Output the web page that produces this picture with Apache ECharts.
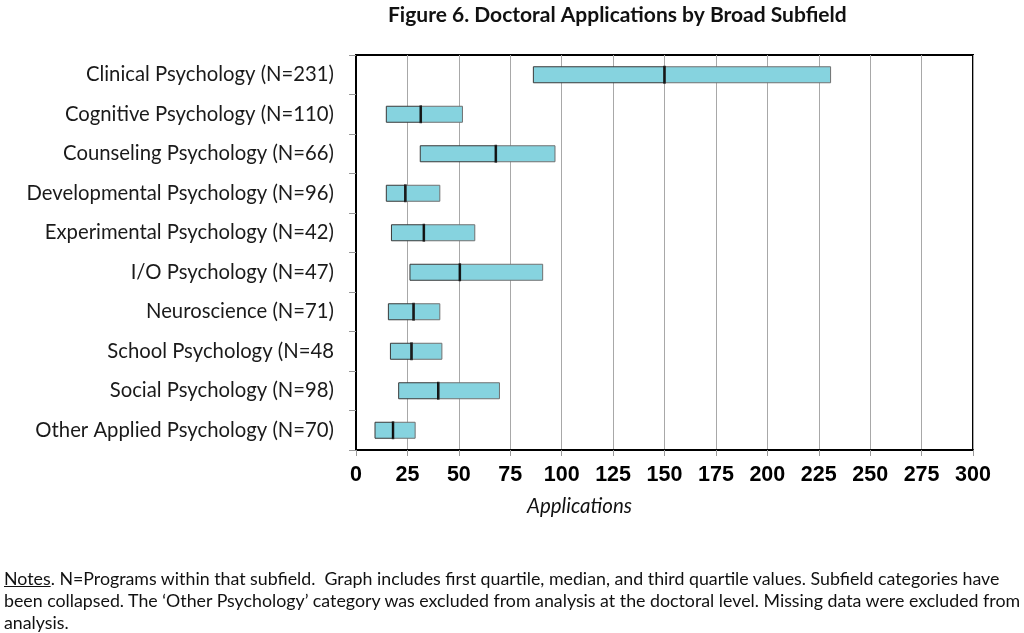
<!DOCTYPE html>
<html>
<head>
<meta charset="utf-8">
<script src="https://cdn.jsdelivr.net/npm/echarts@6/dist/echarts.min.js"></script>
<style>
html,body{margin:0;padding:0;background:#fff;}
#wrap{position:relative;width:1024px;height:633px;}
#chart{position:absolute;left:0;top:0;width:1024px;height:633px;}
#notes{position:absolute;left:4px;top:567px;font-family:Lato,"Noto Sans",sans-serif;font-size:17.8px;line-height:22px;color:#111;white-space:nowrap;}
#notes u{text-decoration:underline;}
</style>
</head>
<body>
<div id="wrap">
<div id="chart"></div>
<div id="notes"><u>Notes</u>. N=Programs within that subfield.&nbsp; Graph includes first quartile, median, and third quartile values. Subfield categories have<br>been collapsed. The ‘Other Psychology’ category was excluded from analysis at the doctoral level. Missing data were excluded from<br>analysis.</div>
</div>
<script>
var categories = [
  'Clinical Psychology (N=231)',
  'Cognitive Psychology (N=110)',
  'Counseling Psychology (N=66)',
  'Developmental Psychology (N=96)',
  'Experimental Psychology (N=42)',
  'I/O Psychology (N=47)',
  'Neuroscience (N=71)',
  'School Psychology (N=48',
  'Social Psychology (N=98)',
  'Other Applied Psychology (N=70)'
];
var q1 =     [86, 14.5, 31, 14.5, 17, 26, 15.5, 16.5, 20.5, 9];
var median = [150, 31.5, 68, 24, 33, 50.5, 28, 27, 40, 18];
var q3 =     [231, 52, 97, 41, 58, 91, 41, 42, 70, 29];
var xTicks = [0, 25, 50, 75, 100, 125, 150, 175, 200, 225, 250, 275, 300];

var lowerSeg = q1.map(function(v, i){ return median[i] - v; });
var upperSeg = q3.map(function(v, i){ return v - median[i]; });
var medianPts = median.map(function(v, i){ return [v, i]; });

var chart = echarts.init(document.getElementById('chart'), null, {renderer: 'canvas'});
var fill = '#86d3df';
var option = {
  animation: false,
  title: {
    text: 'Figure 6. Doctoral Applications by Broad Subfield',
    left: 383, top: 0,
    textStyle: {fontFamily: 'Lato', fontWeight: 'bold', fontSize: 21, color: '#111'}
  },
  grid: {left: 356, right: 51, top: 55, bottom: 183, show: true, borderColor: '#000', borderWidth: 2, containLabel: false},
  xAxis: {
    type: 'value', min: xTicks[0], max: xTicks[xTicks.length - 1], interval: 25,
    axisLine: {show: true, lineStyle: {color: '#000', width: 2}},
    axisTick: {show: true, length: 6, lineStyle: {color: '#999'}},
    axisLabel: {margin: 14, fontFamily: '"Liberation Sans",Arial,sans-serif', fontWeight: 'bold', fontSize: 21.5, color: '#000'},
    splitLine: {show: true, lineStyle: {color: '#a8a8a8', width: 1}}
  },
  yAxis: {
    type: 'category', data: categories, inverse: true,
    axisLine: {show: true, lineStyle: {color: '#000', width: 2}},
    axisTick: {show: true, length: 7, lineStyle: {color: '#999'}},
    axisLabel: {margin: 22, fontFamily: 'Lato', fontSize: 20.3, color: '#1a1a1a'},
    splitLine: {show: false}
  },
  graphic: [{
    type: 'text', left: 527, top: 496,
    style: {text: 'Applications', font: 'italic 20.5px Lato', fill: '#111'}
  }],
  series: [
    {type: 'bar', stack: 'b', data: q1, barWidth: 17, itemStyle: {color: 'transparent'}, silent: true},
    {type: 'bar', stack: 'b', data: lowerSeg, barWidth: 17, itemStyle: {color: fill, borderColor: '#3a3a3a', borderWidth: 1}},
    {type: 'bar', stack: 'b', data: upperSeg, barWidth: 17, itemStyle: {color: fill, borderColor: '#707070', borderWidth: 1}},
    {type: 'scatter', data: medianPts, symbol: 'rect', symbolSize: [2.5, 18], itemStyle: {color: '#000'}, z: 5}
  ]
};
chart.setOption(option);
</script>
</body>
</html>
